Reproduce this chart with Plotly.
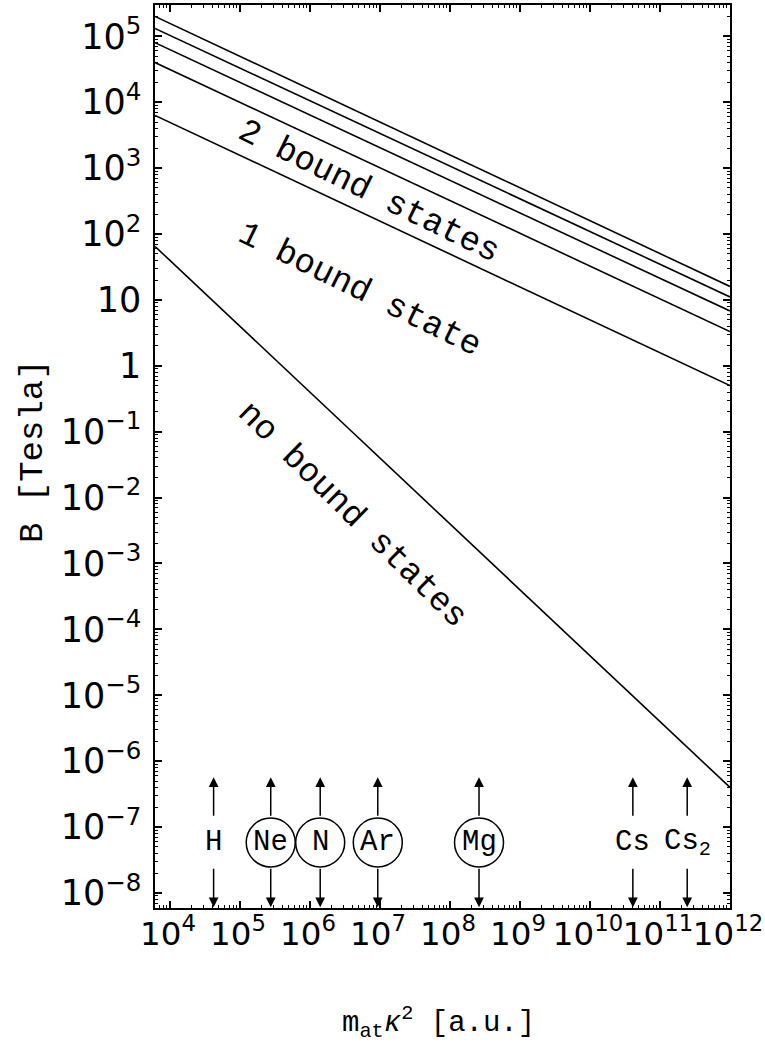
import math
import plotly.graph_objects as go

# ---------------- data ----------------
# each boundary line is a straight line in log-log space: value at both x-ends
x_ends = [6.1e3, 1.0e12]
B_at_start = [65.0, 6300.0, 40000.0, 80000.0, 132000.0, 200000.0]
B_at_end = [4.0e-7, 0.5, 3.3, 6.8, 11.1, 16.0]

elements = ["H", "Ne", "N", "Ar", "Mg", "Cs", "Cs<sub>2</sub>"]
element_x = [4.2e4, 2.75e5, 1.4e6, 9.3e6, 2.6e8, 4.1e10, 2.45e11]
circled = [False, True, True, True, True, False, False]

region_labels = ["2 bound states", "1 bound state", "no bound states"]

# ---------------- style ----------------
MONO = "Liberation Mono"
SANS = "DejaVu Sans"
BLACK = "black"

fig = go.Figure()

for b0, b1 in zip(B_at_start, B_at_end):
    fig.add_trace(go.Scatter(x=x_ends, y=[b0, b1], mode="lines",
                             line=dict(color=BLACK, width=1.6),
                             showlegend=False, hoverinfo="skip"))

# circles around some element labels
Y_LABEL = -7.234
cx = [x for x, c in zip(element_x, circled) if c]
fig.add_trace(go.Scatter(x=cx, y=[10 ** Y_LABEL] * len(cx), mode="markers",
                         marker=dict(symbol="circle-open", size=49, color=BLACK,
                                     line=dict(width=1.5, color=BLACK)),
                         showlegend=False, hoverinfo="skip"))

annotations = []
for name, ex in zip(elements, element_x):
    lx = math.log10(ex)
    annotations.append(dict(x=lx, y=Y_LABEL, xref="x", yref="y", text=name,
                            showarrow=False, xanchor="center", yanchor="middle",
                            font=dict(family=MONO, size=29, color=BLACK)))
    # up arrow
    annotations.append(dict(x=lx, y=-6.245, ax=lx, ay=-6.85, xref="x", yref="y",
                            axref="x", ayref="y", text="", showarrow=True,
                            arrowhead=2, arrowsize=1.3, arrowwidth=1.5,
                            arrowcolor=BLACK, standoff=0, startstandoff=0))
    # down arrow
    annotations.append(dict(x=lx, y=-8.215, ax=lx, ay=-7.61, xref="x", yref="y",
                            axref="x", ayref="y", text="", showarrow=True,
                            arrowhead=2, arrowsize=1.3, arrowwidth=1.5,
                            arrowcolor=BLACK, standoff=0, startstandoff=0))

# region labels
label_pos = [(6.85, 2.64, 26), (6.71, 1.15, 26), (6.6, -2.27, 44.5)]
for txt, (lx, ly, ang) in zip(region_labels, label_pos):
    annotations.append(dict(x=lx, y=ly, xref="x", yref="y", text=txt,
                            showarrow=False, textangle=ang,
                            xanchor="center", yanchor="middle",
                            font=dict(family=MONO, size=34, color=BLACK)))

# axis titles
annotations.append(dict(x=(33 - 155) / 575, y=(908 - 451) / 903,
                        xref="paper", yref="paper",
                        text="B [Tesla]", textangle=-90, showarrow=False,
                        xanchor="center", yanchor="middle",
                        font=dict(family=MONO, size=34, color=BLACK)))
annotations.append(dict(x=(438 - 155) / 575, y=(908 - 1023) / 903,
                        xref="paper", yref="paper",
                        text="m<sub>at</sub><i>κ</i><sup>2</sup> [a.u.]",
                        showarrow=False, xanchor="center", yanchor="middle",
                        font=dict(family=MONO, size=29, color=BLACK)))

axis_common = dict(type="log", dtick=1, exponentformat="power", tickangle=0,
                   automargin=False, ticklabeloverflow="allow",
                   showline=True, linewidth=2, linecolor=BLACK, mirror="allticks",
                   ticks="inside", ticklen=7, tickwidth=1.5, tickcolor=BLACK,
                   showgrid=False, zeroline=False,
                   minor=dict(ticks="inside", ticklen=3, tickwidth=1,
                              tickcolor=BLACK, dtick="D1", showgrid=False))

fig.update_layout(
    width=765, height=1046,
    margin=dict(l=155, r=35, t=5, b=138),
    paper_bgcolor="white", plot_bgcolor="white",
    xaxis=dict(range=[3.786, 12.0005], ticklabelstandoff=-3, ticklabelshift=-2,
               tickfont=dict(family=SANS, size=26, color=BLACK), **axis_common),
    yaxis=dict(range=[-8.228, 5.475], ticklabelstandoff=6,
               tickfont=dict(family=SANS, size=28, color=BLACK), **axis_common),
    annotations=annotations,
    showlegend=False,
)

fig.write_html(
    "out.html",
    config={"displayModeBar": False},
    post_script="document.body.style.margin='0';"
                "document.body.style.overflow='hidden';",
)
